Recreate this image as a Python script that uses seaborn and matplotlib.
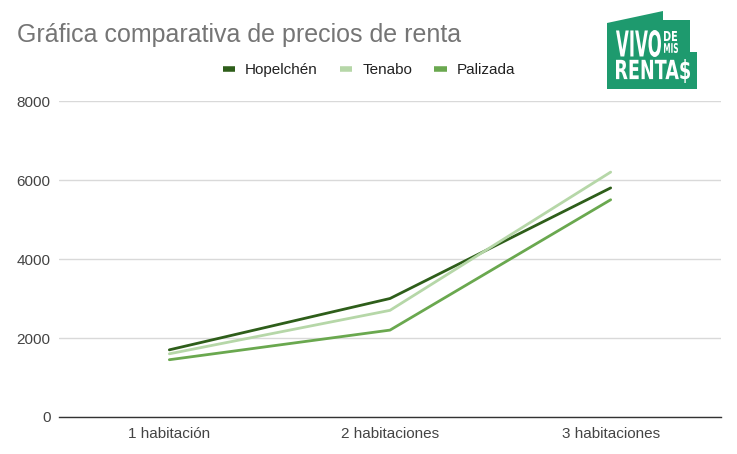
import matplotlib

matplotlib.use("Agg")

import pandas as pd
import seaborn as sns
from matplotlib import pyplot as plt
from matplotlib.font_manager import FontProperties
from matplotlib.patches import PathPatch, Polygon
from matplotlib.textpath import TextPath
from matplotlib.transforms import Affine2D

categories = ["1 habitación", "2 habitaciones", "3 habitaciones"]
hopelchen = [1700, 3000, 5800]
tenabo = [1600, 2700, 6200]
palizada = [1450, 2200, 5500]
series_names = ["Hopelchén", "Tenabo", "Palizada"]
y_ticks = [0, 2000, 4000, 6000, 8000]

colors = ["#2e5e1a", "#b6d7a8", "#6aa84f"]

df = pd.DataFrame(
    {
        "categoria": categories * 3,
        "precio": hopelchen + tenabo + palizada,
        "serie": [name for name in series_names for _ in categories],
    }
)

sns.set_theme(style="white")
plt.rcParams["font.family"] = ["Liberation Sans", "DejaVu Sans"]

W, H = 737, 454
fig = plt.figure(figsize=(W / 100, H / 100), dpi=100)
ax = fig.add_axes([59 / W, 1 - 417 / H, (721 - 59) / W, (417 - 101) / H])

sns.lineplot(
    data=df,
    x="categoria",
    y="precio",
    hue="serie",
    palette=colors,
    linewidth=2,
    sort=False,
    ax=ax,
    legend=False,
)

ax.set_xlim(-0.5, 2.5)
ax.set_ylim(0, 8000)
ax.set_yticks(y_ticks)
ax.set_yticklabels([str(t) for t in y_ticks])
ax.set_xlabel("")
ax.set_ylabel("")
ax.grid(axis="y", color="#d9d9d9", linewidth=1)
ax.set_axisbelow(True)
for side in ["left", "right", "top"]:
    ax.spines[side].set_visible(False)
ax.spines["bottom"].set_color("#333333")
ax.spines["bottom"].set_linewidth(1)
ax.tick_params(axis="both", length=0, labelsize=11, labelcolor="#444444")
ax.tick_params(axis="x", pad=7)
ax.tick_params(axis="y", pad=6)

# legend
handles = [plt.Line2D([], [], color=c, linewidth=4, solid_capstyle="butt")
           for c in colors]
fig.legend(
    handles,
    series_names,
    loc="center",
    bbox_to_anchor=(369 / W, 1 - 70 / H),
    ncol=3,
    frameon=False,
    handlelength=0.8,
    handletextpad=0.65,
    columnspacing=1.45,
    prop={"size": 11},
    labelcolor="#222222",
)

# title
fig.text(17 / W, 1 - 35 / H, "Gráfica comparativa de precios de renta",
         fontsize=18, color="#757575", va="center", ha="left")

# logo
logo_green = "#1e9a6e"
pts = [(607, 23), (663, 11), (663, 20), (690, 20), (690, 52),
       (697, 52), (697, 89), (607, 89)]
house = Polygon([(x / W, 1 - y / H) for x, y in pts], closed=True,
                transform=fig.transFigure, facecolor=logo_green,
                edgecolor="none")
fig.patches.append(house)


def boxed_text(s, x0, y0, x1, y1):
    """Draw white text squeezed into a pixel box (y measured from top)."""
    tp = TextPath((0, 0), s, size=1,
                  prop=FontProperties(family="DejaVu Sans", weight="bold"))
    bb = tp.get_extents()
    tr = (Affine2D()
          .translate(-bb.x0, -bb.y0)
          .scale((x1 - x0) / bb.width, (y1 - y0) / bb.height)
          .translate(x0, H - y1)
          .scale(1 / W, 1 / H))
    patch = PathPatch(tr.transform_path(tp), transform=fig.transFigure,
                      facecolor="white", edgecolor="none")
    fig.patches.append(patch)


boxed_text("VIVO", 616, 30, 661, 57)
boxed_text("DE", 664, 31, 677, 41)
boxed_text("MIS", 664, 43, 678, 53)
boxed_text("RENTA$", 616, 59, 690, 83)

fig.savefig("out.png", dpi=100)
